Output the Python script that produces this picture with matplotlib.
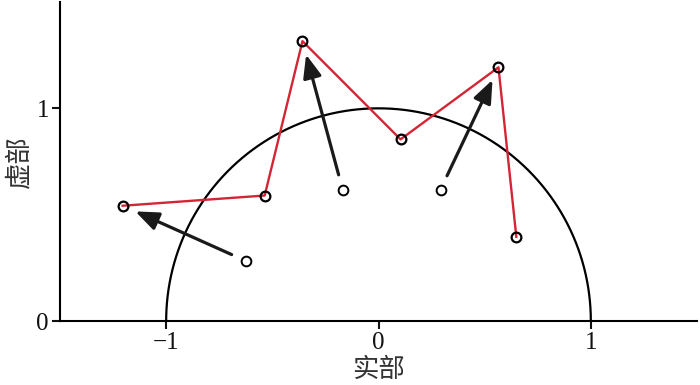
import numpy as np
import matplotlib.pyplot as plt

# outer points (red polyline)
re_out = [-1.205, -0.536, -0.358, 0.104, 0.565, 0.649]
im_out = [0.542, 0.590, 1.316, 0.854, 1.193, 0.396]
# inner points with arrows to outer points 0, 2, 4
re_in = [-0.626, -0.169, 0.292]
im_in = [0.283, 0.618, 0.618]
arrow_to = [0, 2, 4]

plt.rcParams['font.family'] = ['Liberation Serif', 'Noto Sans CJK SC']
plt.rcParams['axes.unicode_minus'] = True

fig = plt.figure(figsize=(7, 3.85), dpi=100)
ax = fig.add_axes([60/700, 64/385, 637/700, 319/385])

th = np.linspace(0, np.pi, 400)
ax.plot(np.cos(th), np.sin(th), color='black', lw=1.6, zorder=1)

ax.plot(re_out, im_out, color='#d42535', lw=1.7, zorder=2)
ax.plot(re_out, im_out, 'o', ms=7, mfc='none', mec='black', mew=1.6, zorder=3)
ax.plot(re_in, im_in, 'o', ms=7, mfc='none', mec='black', mew=1.4, zorder=3)

for i, j in enumerate(arrow_to):
    ax.annotate('', xy=(re_out[j], im_out[j]), xytext=(re_in[i], im_in[i]),
                arrowprops=dict(arrowstyle='-|>,head_length=1.0,head_width=0.4',
                                mutation_scale=14, color='#1a1a1a', lw=2.3,
                                shrinkA=11, shrinkB=10), zorder=4)

ax.set_xlim(-1.5, 1.5)
ax.set_ylim(0, 1.5)
ax.set_xticks([-1, 0, 1])
ax.set_yticks([0, 1])
ax.set_xticklabels(['\u22121', '0', '1'])
ax.set_yticklabels(['0', '1'])
for s in ['top', 'right']:
    ax.spines[s].set_visible(False)
for s in ['left', 'bottom']:
    ax.spines[s].set_linewidth(1.5)
ax.tick_params(direction='out', length=6, width=1.5, labelsize=18, pad=2, colors='#111111')

ax.set_xlabel('实部', fontsize=19, color='#333333', labelpad=1,
              family=['Noto Sans CJK SC'], fontweight='light')
ax.set_ylabel('虚部', fontsize=19, color='#333333', labelpad=3,
              family=['Noto Sans CJK SC'], fontweight='light')

fig.savefig('out.png', dpi=100)
